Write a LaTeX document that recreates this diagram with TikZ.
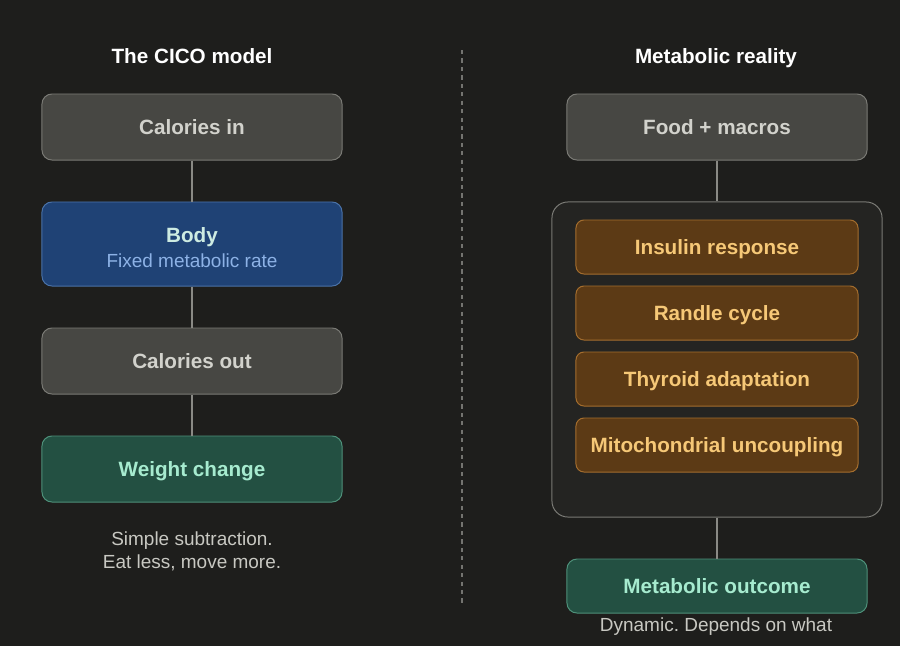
\documentclass[tikz,border=0pt]{standalone}
\usepackage{fontspec}
\setmainfont{Liberation Sans}
\usepackage{tikz}
\frenchspacing

\definecolor{bgdark}{HTML}{1E1E1C}
\definecolor{grpfill}{HTML}{242422}
\definecolor{grayfill}{HTML}{474743}
\definecolor{grayedge}{HTML}{7A7A75}
\definecolor{graytxt}{HTML}{D2D2CC}
\definecolor{bluefill}{HTML}{1F4275}
\definecolor{blueedge}{HTML}{4A72A8}
\definecolor{bluetxt}{HTML}{CDEBE2}
\definecolor{bluesub}{HTML}{8DB2E6}
\definecolor{greenfill}{HTML}{235042}
\definecolor{greenedge}{HTML}{4E917A}
\definecolor{greentxt}{HTML}{A6EBCF}
\definecolor{orfill}{HTML}{5C3A15}
\definecolor{oredge}{HTML}{A56E2E}
\definecolor{ortxt}{HTML}{F6C877}
\definecolor{linegray}{HTML}{8A8A85}
\definecolor{notetxt}{HTML}{C8C8C2}

\newcommand{\labfont}{\fontsize{14.7}{17}\selectfont\bfseries}
\newcommand{\notefont}{\fontsize{13.5}{16.5}\selectfont}

\tikzset{
  box/.style={draw, rounded corners=0.25cm, line width=0.7pt, inner sep=0pt,
    minimum width=7.5cm, minimum height=1.65cm, align=center, font=\labfont},
  oneline/.style={text height=12pt, text depth=1.5pt},
  graybox/.style={box, oneline, fill=grayfill, draw=grayedge, text=graytxt},
  bluebox/.style={box, fill=bluefill, draw=blueedge, minimum height=2.1cm},
  greenbox/.style={box, oneline, fill=greenfill, draw=greenedge, text=greentxt},
  orbox/.style={box, oneline, fill=orfill, draw=oredge, text=ortxt,
    minimum width=7.05cm, minimum height=1.35cm, rounded corners=0.2cm},
  grpbox/.style={draw=grayedge, fill=grpfill, rounded corners=0.4cm, line width=0.7pt,
    minimum width=8.25cm, minimum height=7.875cm, inner sep=0pt},
  conn/.style={draw=linegray, line width=1pt},
  title/.style={text=white, font=\labfont, anchor=base},
  note/.style={text=notetxt, font=\notefont, align=center}
}

\begin{document}
\begin{tikzpicture}[x=0.025cm,y=-0.025cm]
\fill[bgdark] (0,0) rectangle (900,646);
\useasboundingbox (0,0) rectangle (900,646);

%%% left: the CICO model
\node[title] (ltitle) at (192,63) {The CICO model};
\node[graybox] (calin) at (192,127) {Calories in};
\node[bluebox] (body) at (192,244) {};
\node[text=bluetxt, font=\labfont, anchor=base] (bodyname) at (192,242) {Body};
\node[text=bluesub, font=\notefont, anchor=base] (bodyrate) at (192,267) {Fixed metabolic rate};
\node[graybox] (calout) at (192,361) {Calories out};
\node[greenbox] (wchange) at (192,469) {Weight change};
\node[note] (lnote) at (192,551) {Simple subtraction.\\Eat less, move more.};

\draw[conn] (calin) -- (body);
\draw[conn] (body) -- (calout);
\draw[conn] (calout) -- (wchange);

%%% divider
\coordinate (divtop) at (462,50);
\coordinate (divbot) at (462,606);
\draw[linegray!80!bgdark, line width=0.9pt, dash pattern=on 3pt off 3pt] (divtop) -- (divbot);

%%% right: metabolic reality
\node[title] (rtitle) at (716,63) {Metabolic reality};
\node[graybox] (food) at (717,127) {Food + macros};
\node[grpbox] (grp) at (717,359.5) {};
\node[orbox] (insulin) at (717,247) {Insulin response};
\node[orbox] (randle) at (717,313) {Randle cycle};
\node[orbox] (thyroid) at (717,379) {Thyroid adaptation};
\node[orbox] (mito) at (717,445) {Mitochondrial uncoupling};
\node[greenbox, minimum height=1.35cm] (outcome) at (717,586) {Metabolic outcome};
\node[note, anchor=base] (rnote) at (716,631) {Dynamic. Depends on what};

\draw[conn] (food) -- (grp);
\draw[conn] (grp) -- (outcome);
\end{tikzpicture}
\end{document}
